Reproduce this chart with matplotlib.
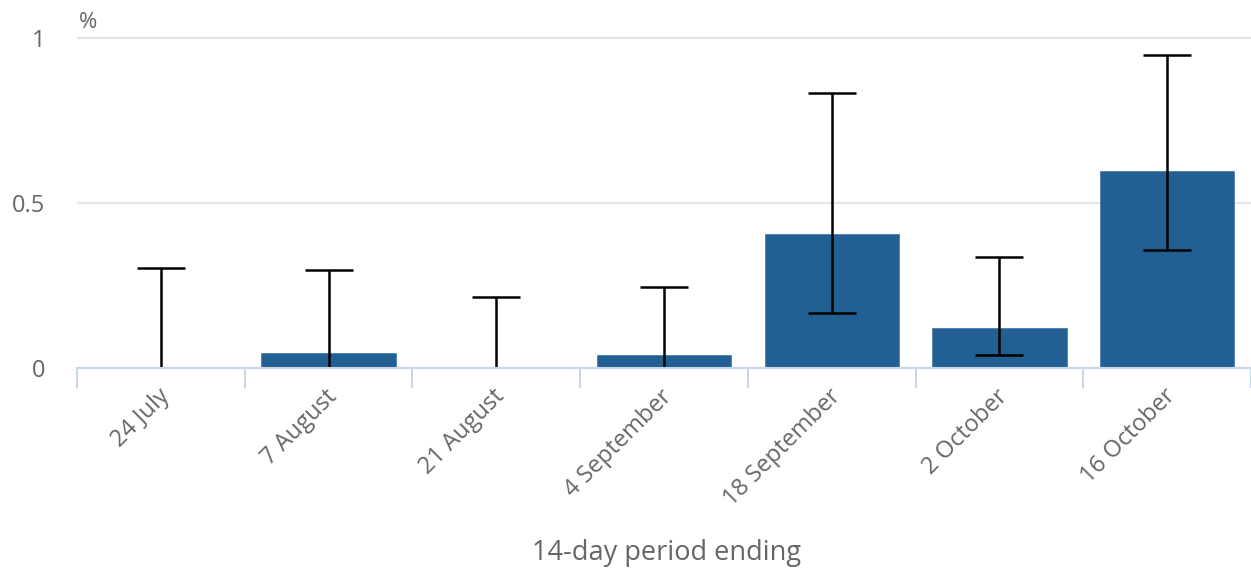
import matplotlib
matplotlib.use("Agg")
import matplotlib.pyplot as plt
import matplotlib.transforms as mtransforms
import numpy as np

plt.rcParams['font.family'] = ['Open Sans', 'DejaVu Sans']

# 14-day periods and estimated percentages with confidence intervals
periods = ["24 July", "7 August", "21 August", "4 September",
           "18 September", "2 October", "16 October"]
estimate = [0.0, 0.045, 0.0, 0.038, 0.406, 0.121, 0.596]
lower = [0.0, 0.0, 0.0, 0.0, 0.166, 0.039, 0.357]
upper = [0.303, 0.297, 0.215, 0.246, 0.833, 0.336, 0.948]

W, H, DPI = 1251, 569, 100
fig = plt.figure(figsize=(W / DPI, H / DPI), dpi=DPI)
left, right, bottom, top = 77, 1251, 368, 30
ax = fig.add_axes([left / W, 1 - bottom / H, (right - left) / W, (bottom - top) / H])

x = np.arange(len(periods))
est = np.array(estimate)
lo = np.array(lower)
up = np.array(upper)

ax.bar(x, est, width=0.8, color="#225f93", edgecolor="#4a7fb0", linewidth=0.6, zorder=2)
eb = ax.errorbar(x, est, yerr=[est - lo, up - est], fmt="none", ecolor="black",
                 elinewidth=1.8, capsize=17, capthick=1.8, zorder=3)
# lower whisker caps are not shown where the interval starts at zero
low_caps = eb.lines[1][0]
keep = lo > 0
low_caps.set_data(x[keep], lo[keep])

ymax = (bottom - top) / 330.0
ax.set_ylim(0, ymax)
ax.set_xlim(-0.5, len(periods) - 0.5)

ax.set_yticks([0, 0.5, 1])
ax.set_yticklabels(["0", "0.5", "1"])
ax.yaxis.grid(True, color="#e6e6e6", linewidth=1.6, zorder=0)
ax.set_axisbelow(True)

ax.set_xticks(x)
ax.set_xticklabels(periods, rotation=45, ha="right", va="center", rotation_mode="anchor")
ax.set_xticks(np.arange(len(periods) + 1) - 0.5, minor=True)
ax.tick_params(axis="x", which="major", length=0, pad=18, labelsize=17, labelcolor="#666666")
ax.tick_params(axis="x", which="minor", length=14.5, width=1.5, color="#ccd6eb")
ax.tick_params(axis="y", length=0, pad=23, labelsize=17, labelcolor="#666666")

shift = mtransforms.ScaledTranslation(5 / DPI, 0, fig.dpi_scale_trans)
for lab in ax.get_xticklabels():
    lab.set_transform(lab.get_transform() + shift)

for s in ["top", "right", "left"]:
    ax.spines[s].set_visible(False)
ax.spines["bottom"].set_color("#ccd6eb")
ax.spines["bottom"].set_linewidth(1.5)
ax.spines["bottom"].set_zorder(4)

fig.text(79 / W, 1 - 22 / H, "%", fontsize=16, color="#666666",
         ha="left", va="center")
fig.text(666 / W, 1 - 553 / H, "14-day period ending", fontsize=19.5,
         color="#666666", ha="center", va="center")

fig.savefig("out.png", dpi=DPI, facecolor="white")
